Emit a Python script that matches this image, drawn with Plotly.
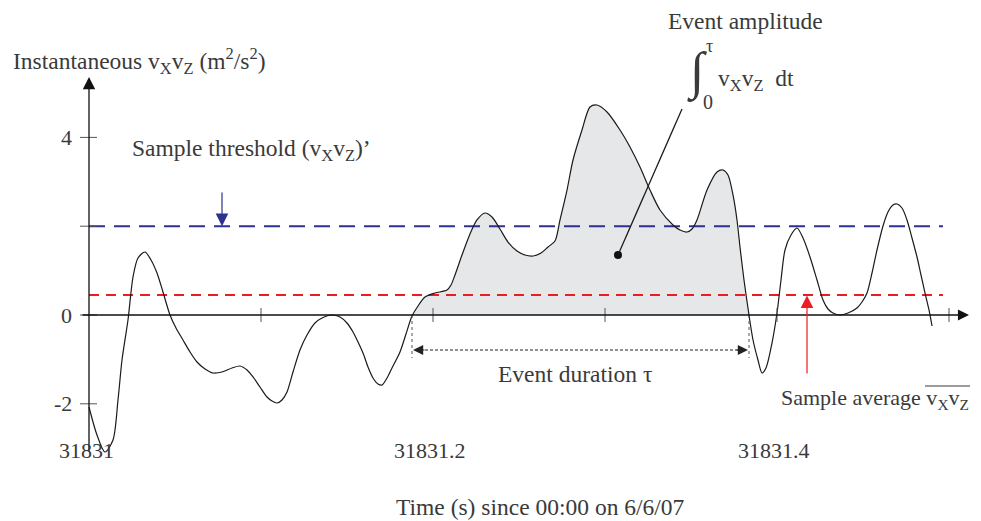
import plotly.graph_objects as go

# ---------------- data ----------------
time_s = [
    31831.0000, 31831.00465, 31831.0093, 31831.01395, 31831.01686, 31831.01919, 31831.02267,
    31831.02558, 31831.02849, 31831.03256, 31831.03605, 31831.03953, 31831.04302, 31831.04709,
    31831.05058, 31831.05465, 31831.05872, 31831.06279, 31831.06744, 31831.07209, 31831.07733,
    31831.08314, 31831.08779, 31831.09186, 31831.09535, 31831.09942, 31831.10349, 31831.10640,
    31831.10930, 31831.11221, 31831.11512, 31831.11860, 31831.12267, 31831.12674, 31831.13140,
    31831.13547, 31831.14128, 31831.14593, 31831.15000, 31831.15349, 31831.15640, 31831.15930,
    31831.16221, 31831.16512, 31831.16802, 31831.17035, 31831.17326, 31831.17616, 31831.18081,
    31831.18430, 31831.18779, 31831.19128, 31831.19535, 31831.20116, 31831.20814, 31831.21047,
    31831.21279, 31831.21686, 31831.22151, 31831.22558, 31831.23023, 31831.23430, 31831.23895,
    31831.24360, 31831.24884, 31831.25349, 31831.25814, 31831.26279, 31831.26686, 31831.27093,
    31831.27384, 31831.27791, 31831.28140, 31831.28663, 31831.29128, 31831.29535, 31831.30116,
    31831.30872, 31831.31453, 31831.32035, 31831.32616, 31831.33198, 31831.33953, 31831.34360,
    31831.34767, 31831.35058, 31831.35349, 31831.35930, 31831.36512, 31831.36860, 31831.37151,
    31831.37442, 31831.37674, 31831.37849, 31831.38081, 31831.38372, 31831.38605, 31831.38895,
    31831.39128, 31831.39360, 31831.39709, 31831.40000, 31831.40233, 31831.40465, 31831.40814,
    31831.41163, 31831.41512, 31831.41919, 31831.42326, 31831.42674, 31831.42965, 31831.43256,
    31831.43663, 31831.44128, 31831.44651, 31831.44942, 31831.45233, 31831.45523, 31831.45814,
    31831.46163, 31831.46453, 31831.46744, 31831.46977, 31831.47267, 31831.47558, 31831.47849,
    31831.48140, 31831.48372, 31831.48605, 31831.48837, 31831.49012,
]
vxvz = [
    -2.072, -2.703, -3.086, -2.815, -1.914, -1.014, -0.113,
    0.856, 1.284, 1.419, 1.239, 0.946, 0.518, 0.000,
    -0.293, -0.563, -0.833, -1.059, -1.216, -1.306, -1.284,
    -1.194, -1.149, -1.239, -1.396, -1.622, -1.847, -1.937,
    -1.982, -1.914, -1.734, -1.284, -0.788, -0.450, -0.180,
    -0.068, 0.000, -0.045, -0.180, -0.383, -0.608, -0.856,
    -1.171, -1.419, -1.554, -1.577, -1.419, -1.194, -0.833,
    -0.428, -0.023, 0.203, 0.405, 0.495, 0.563, 0.676,
    0.901, 1.351, 1.824, 2.140, 2.297, 2.207, 1.937,
    1.644, 1.441, 1.351, 1.329, 1.396, 1.532, 1.667,
    2.140, 2.815, 3.491, 4.167, 4.685, 4.730, 4.572,
    4.167, 3.784, 3.333, 2.815, 2.365, 2.027, 1.914,
    1.869, 1.937, 2.140, 2.815, 3.221, 3.266, 3.153,
    2.703, 2.140, 1.532, 0.788, 0.000, -0.563, -1.014,
    -1.306, -1.194, -0.631, 0.045, 0.788, 1.464, 1.802,
    1.959, 1.734, 1.306, 0.788, 0.338, 0.135, 0.045,
    0.000, 0.045, 0.158, 0.293, 0.495, 0.946, 1.464,
    2.005, 2.320, 2.477, 2.500, 2.410, 2.140, 1.734,
    1.306, 0.901, 0.495, 0.113, -0.248,
]
sample_threshold = 2.0
sample_average = 0.45
event_start = 31831.18779
event_end = 31831.38372
x_tick_vals = [31831.1, 31831.2, 31831.3, 31831.4, 31831.5]
x_label_vals = [31831.0, 31831.2, 31831.4]
x_label_text = ["31831", "31831.2", "31831.4"]
y_tick_vals = [-2, 0, 2, 4]
y_tick_text = ["-2", "0", "", "4"]

# ---------------- geometry ----------------
OFF = 8                      # page body margin
W, H = 981 - OFF, 521 - OFF  # figure size
T0 = 31831.0
X0PX, XSCALE = 89.0 - OFF, 1720.0   # figure pixel of T0, px per second
Y0PX, YSCALE = 315.0 - OFF, 44.4    # figure pixel of y=0, px per unit
X_RANGE = [T0 - X0PX / XSCALE, T0 + (W - X0PX) / XSCALE]
Y_RANGE = [-(H - Y0PX) / YSCALE, Y0PX / YSCALE]


def dx(px):
    return px / XSCALE


def dy(px):
    return px / YSCALE


def paper(px, py):
    """page pixel -> paper coords"""
    return (px - OFF) / W, 1 - (py - OFF) / H


FONT = "Liberation Serif, Times New Roman, serif"
TXT = "#3a3a3a"
BLUE = "#2e3192"
RED = "#ed1c24"

fig = go.Figure()

# shaded event area
ev_t = [t for t in time_s if event_start <= t <= event_end]
ev_v = [v for t, v in zip(time_s, vxvz) if event_start <= t <= event_end]
fig.add_trace(go.Scatter(x=ev_t, y=ev_v, mode="lines", fill="tozeroy",
                         fillcolor="#e6e7e8", line=dict(width=0, shape="spline", smoothing=0.8),
                         hoverinfo="skip", showlegend=False))

# threshold + average lines
t_line_end = T0 + 0.4965
fig.add_trace(go.Scatter(x=[T0, t_line_end], y=[sample_threshold] * 2, mode="lines",
                         line=dict(color=BLUE, width=2, dash="16px,9px"), showlegend=False))
fig.add_trace(go.Scatter(x=[T0, t_line_end], y=[sample_average] * 2, mode="lines",
                         line=dict(color=RED, width=2, dash="10px,7px"), showlegend=False))

# the signal
fig.add_trace(go.Scatter(x=time_s, y=vxvz, mode="lines",
                         line=dict(color="#1a1a1a", width=1.2, shape="spline", smoothing=0.8),
                         showlegend=False))

shapes = []
for xv in x_tick_vals:
    shapes.append(dict(type="line", xref="x", yref="y", x0=xv, x1=xv, y0=-dy(7), y1=dy(7),
                       line=dict(color="#555555", width=1)))
for yv in y_tick_vals:
    shapes.append(dict(type="line", xref="x", yref="y", x0=T0 - dx(9), x1=T0 + dx(8), y0=yv, y1=yv,
                       line=dict(color="#555555", width=1)))
for xv in (event_start, event_end):
    shapes.append(dict(type="line", xref="x", yref="y", x0=xv, x1=xv, y0=0, y1=-dy(43),
                       line=dict(color="#555555", width=1, dash="dot")))
dur_y = -dy(35)
shapes.append(dict(type="line", xref="x", yref="y", x0=event_start + dx(8), x1=event_end - dx(8),
                   y0=dur_y, y1=dur_y, line=dict(color="#222222", width=1, dash="3px,2px")))
dot_t, dot_v = T0 + 0.30756, 1.351
shapes.append(dict(type="line", xref="x", yref="y", x0=dot_t, y0=dot_v,
                   x1=T0 + 0.34477, y1=4.64, line=dict(color="#1a1a1a", width=1.3)))
# overline of the sample average symbol
ox0, oy = paper(925, 386)
ox1, _ = paper(970, 386)
shapes.append(dict(type="line", xref="paper", yref="paper", x0=ox0, x1=ox1, y0=oy, y1=oy,
                   line=dict(color=TXT, width=1.2)))

fig.add_trace(go.Scatter(x=[dot_t], y=[dot_v], mode="markers",
                         marker=dict(color="#111111", size=8), showlegend=False))

annotations = []


def arrow(x, y, ax, ay, color, width=1.3, size=1.6):
    annotations.append(dict(x=x, y=y, ax=ax, ay=ay, xref="x", yref="y", axref="x", ayref="y",
                            text="", showarrow=True, arrowhead=2, arrowsize=size,
                            arrowwidth=width, arrowcolor=color, standoff=0, startstandoff=0))


arrow(T0, dy(315 - 77), T0, -dy(453 - 315), "#111111", 1.3, 1.9)
arrow(T0 + dx(969 - 89), 0, T0 - dx(8), 0, "#111111", 1.3, 1.7)
arrow(T0 + 0.07733, sample_threshold, T0 + 0.07733, dy(315 - 191), BLUE, 1.2, 2.1)
arrow(T0 + 0.41744, sample_average - 0.01, T0 + 0.41744, -dy(375 - 315), RED, 1.2, 2.1)
arrow(event_start + dx(1), dur_y, event_start + dx(14), dur_y, "#222222", 1.2, 1.7)
arrow(event_end - dx(1), dur_y, event_end - dx(14), dur_y, "#222222", 1.2, 1.7)


def label(text, px, py, size=23.5, xanchor="center", yanchor="middle", family=FONT, color=TXT):
    x, y = paper(px, py)
    annotations.append(dict(text=text, x=x, y=y, xref="paper", yref="paper", xanchor=xanchor,
                            yanchor=yanchor, showarrow=False,
                            font=dict(family=family, size=size, color=color)))


vv = "v<sub>X</sub>v<sub>Z</sub>"
label("Instantaneous " + vv + " (m<sup>2</sup>/s<sup>2</sup>)", 11, 61, xanchor="left")
label("Sample threshold (" + vv + ")’", 130, 150, xanchor="left")
label("Event amplitude", 745, 21)
label("∫", 697, 72, size=52)
label("τ", 709, 46, size=18)
label("0", 708, 102, size=20)
label(vv + "  dt", 716, 80, xanchor="left")
label("Event duration τ", 575, 374)
label("Sample average " + vv, 779, 399, size=22, xanchor="left")
label("Time (s) since 00:00 on 6/6/07", 540, 507)

for yv, tx in zip(y_tick_vals, y_tick_text):
    if tx:
        x, y = paper(74, 315 - yv * YSCALE)
        annotations.append(dict(text=tx, x=x, y=y, xref="paper", yref="paper", xanchor="right",
                                yanchor="middle", showarrow=False,
                                font=dict(family=FONT, size=22, color=TXT)))
for xv, tx in zip(x_label_vals, x_label_text):
    annotations.append(dict(text=tx, x=xv - dx(3), y=-dy(450 - 315), xref="x", yref="y",
                            xanchor="center", yanchor="middle", showarrow=False,
                            font=dict(family=FONT, size=22, color=TXT)))

fig.update_layout(
    width=W, height=H, margin=dict(l=0, r=0, t=0, b=0),
    paper_bgcolor="white", plot_bgcolor="white",
    xaxis=dict(range=X_RANGE, visible=False, fixedrange=True),
    yaxis=dict(range=Y_RANGE, visible=False, fixedrange=True),
    shapes=shapes, annotations=annotations, showlegend=False,
)

fig.write_html("out.html")
